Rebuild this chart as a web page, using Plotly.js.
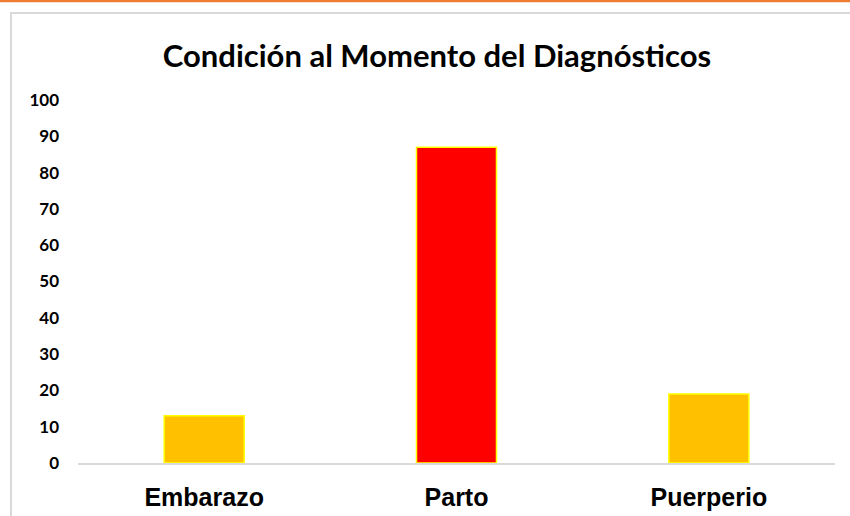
<!DOCTYPE html>
<html>
<head>
<meta charset="utf-8">
<script src="https://cdn.plot.ly/plotly-3.0.1.min.js"></script>
<style>html,body{margin:0;padding:0;background:#fff}#chart{width:850px;height:516px}</style>
</head>
<body>
<div id="chart"></div>
<script>
const categories = ["Embarazo", "Parto", "Puerperio"];
const values = [13, 87, 19];
const barColors = ["#FFC000", "#FF0000", "#FFC000"];
const yTicks = [0, 10, 20, 30, 40, 50, 60, 70, 80, 90, 100];

const trace = {
  type: "bar",
  x: categories,
  y: values,
  width: 0.317,
  marker: {color: barColors, line: {color: "#FFFF00", width: 1.5}},
  hoverinfo: "x+y"
};

const layout = {
  width: 850, height: 516,
  margin: {l: 78, r: 15, t: 100, b: 53},
  paper_bgcolor: "#fff", plot_bgcolor: "#fff",
  showlegend: false,
  title: {text: "<b>Condición al Momento del Diagnósticos</b>", x: 437/850, xanchor: "center", y: 1 - 56/516, yanchor: "middle",
          font: {family: "Lato, 'Open Sans', sans-serif", size: 31, color: "#000"}},
  xaxis: {
    type: "category", range: [-0.5, 2.5],
    showline: true, linecolor: "#d9d9d9", linewidth: 1.5,
    showgrid: false, zeroline: false, ticks: "", ticklabelstandoff: 11,
    tickfont: {family: "'Liberation Sans', Arial, sans-serif", size: 25, color: "#000"},
    tickprefix: "<b>", ticksuffix: "</b>"
  },
  yaxis: {
    range: [0, 100], tickvals: yTicks, ticktext: yTicks.map(v => "<b>" + v + "</b>"),
    showline: false, showgrid: false, zeroline: false, ticks: "", ticklabelstandoff: 18,
    tickfont: {family: "Lato, 'Open Sans', sans-serif", size: 17, color: "#000"}
  },
  shapes: [
    {type: "rect", xref: "paper", yref: "paper", x0: 0, x1: 1, y0: 0, y1: 1, line: {color: "#d9d9d9", width: 2}, fillcolor: "rgba(0,0,0,0)", layer: "below"},
    {type: "line", xref: "paper", yref: "paper", x0: 0, x1: 1, y0: 1, y1: 1, line: {color: "#ED7D31", width: 2.5}}
  ]
};

// Shape coordinates given in pixels, converted to paper coords (which span the plot area)
(function(){
  const L = 78, T = 100, W = 757, H = 363;
  const px = x => (x - L) / W;
  const py = y => (T + H - y) / H;
  layout.shapes[0].x0 = px(11); layout.shapes[0].x1 = px(860);
  layout.shapes[0].y0 = py(530); layout.shapes[0].y1 = py(13);
  layout.shapes[1].x0 = px(-5); layout.shapes[1].x1 = px(855);
  layout.shapes[1].y0 = py(1); layout.shapes[1].y1 = py(1);
})();

Plotly.newPlot("chart", [trace], layout, {displayModeBar: false, staticPlot: true});
</script>
</body>
</html>
